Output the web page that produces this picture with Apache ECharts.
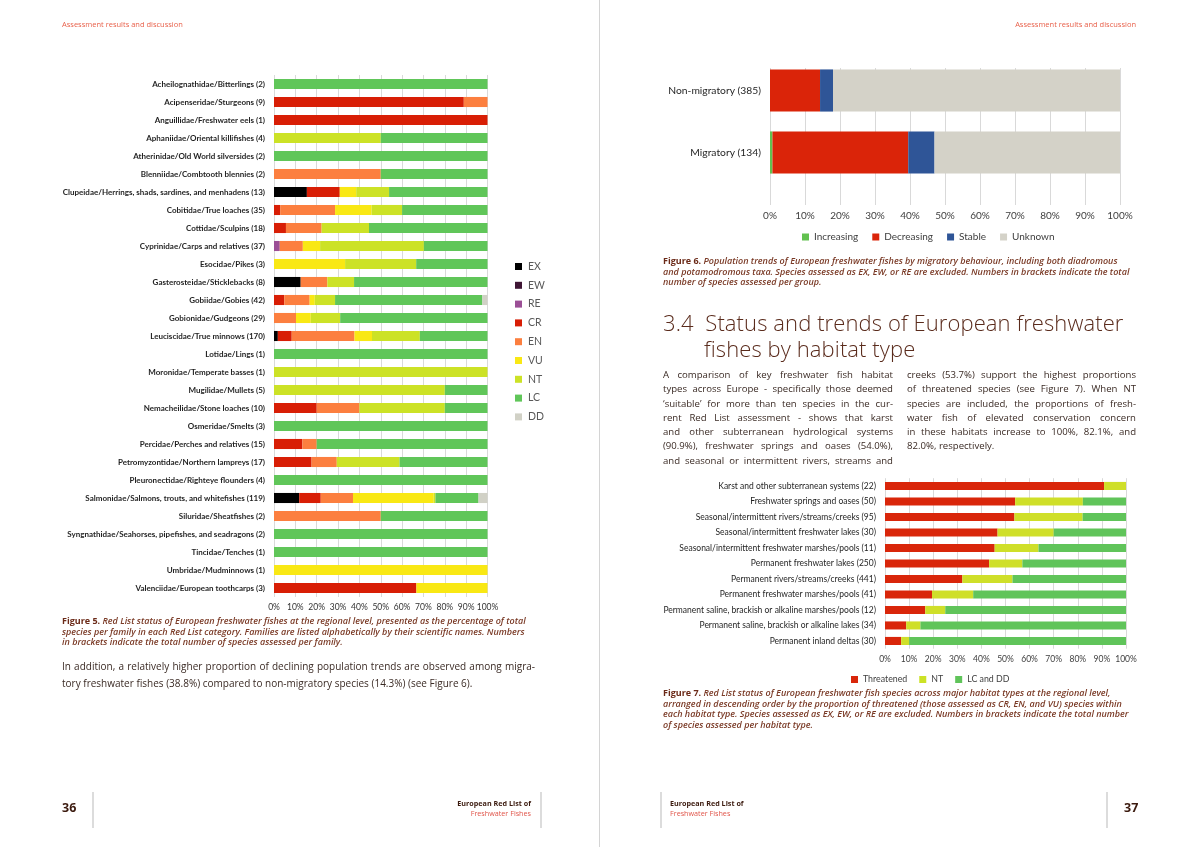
<!DOCTYPE html>
<html>
<head>
<meta charset="utf-8">
<script src="https://cdn.jsdelivr.net/npm/echarts@6/dist/echarts.min.js"></script>
<style>
  html, body { margin: 0; padding: 0; background: #ffffff; }
  body { width: 1199px; height: 847px; position: relative; overflow: hidden; font-family: "Open Sans", "Noto Sans", sans-serif; }
  #chart { position: absolute; left: 0; top: 0; width: 1199px; height: 847px; }
  .t { position: absolute; white-space: nowrap; }
  .hdr { font-size: 7.5px; color: #e8604a; top: 19px; }
  .cap { font-size: 9px; font-style: italic; font-weight: 600; color: #7a3a26; line-height: 10.7px; }
  .cap b { font-style: normal; font-weight: 700; color: #6b2a18; }
  .line { display: block; white-space: nowrap; }
  .just { text-align: justify; text-align-last: justify; }
  .body { font-size: 9.6px; color: #3a2a24; }
  .h { font-size: 22px; color: #5a2b1c; font-weight: 300; letter-spacing: 0.1px; }
  .ft1 { font-size: 7.2px; font-weight: 700; color: #3b1a0e; }
  .ft2 { font-size: 7.2px; color: #e0554a; }
  .num { font-size: 12.5px; font-weight: 700; color: #3b1a0e; }
  .vl { position: absolute; width: 1.5px; background: #dcdcdc; }
</style>
</head>
<body>
<div id="chart"></div>

<!-- spine -->
<div class="vl" style="left:599px; top:0; height:847px; width:1px; background:#d4d4d4;"></div>

<!-- headers -->
<div class="t hdr" style="left:62px;">Assessment results and discussion</div>
<div class="t hdr" style="right:63px;">Assessment results and discussion</div>

<!-- Figure 5 caption -->
<div class="t cap" style="left:62px; top:616px;">
  <span class="line"><b>Figure 5.</b> Red List status of European freshwater fishes at the regional level, presented as the percentage of total</span>
  <span class="line">species per family in each Red List category. Families are listed alphabetically by their scientific names. Numbers</span>
  <span class="line">in brackets indicate the total number of species assessed per family.</span>
</div>

<!-- left paragraph -->
<div class="t body" style="left:62px; top:658px; width:473px; font-size:10px; line-height:17px; white-space:normal;">
  <div class="just">In addition, a relatively higher proportion of declining population trends are observed among migra-</div>
  <div>tory freshwater fishes (38.8%) compared to non-migratory species (14.3%) (see Figure 6).</div>
</div>

<!-- Figure 6 caption -->
<div class="t cap" style="left:663px; top:256px;">
  <span class="line"><b>Figure 6.</b> Population trends of European freshwater fishes by migratory behaviour, including both diadromous</span>
  <span class="line">and potamodromous taxa. Species assessed as EX, EW, or RE are excluded. Numbers in brackets indicate the total</span>
  <span class="line">number of species assessed per group.</span>
</div>

<!-- heading -->
<div class="t h" style="left:663px; top:307px;">3.4&nbsp;&nbsp;Status and trends of European freshwater</div>
<div class="t h" style="left:704px; top:333px;">fishes by habitat type</div>

<!-- two-column paragraph -->
<div class="t body" style="left:663px; top:368px; width:230px; line-height:14.3px; white-space:normal;">
  <div class="just">A comparison of key freshwater fish habitat</div>
  <div class="just">types across Europe - specifically those deemed</div>
  <div class="just">‘suitable’ for more than ten species in the cur-</div>
  <div class="just">rent Red List assessment - shows that karst</div>
  <div class="just">and other subterranean hydrological systems</div>
  <div class="just">(90.9%), freshwater springs and oases (54.0%),</div>
  <div class="just">and seasonal or intermittent rivers, streams and</div>
</div>
<div class="t body" style="left:907px; top:368px; width:229px; line-height:14.3px; white-space:normal;">
  <div class="just">creeks (53.7%) support the highest proportions</div>
  <div class="just">of threatened species (see Figure 7). When NT</div>
  <div class="just">species are included, the proportions of fresh-</div>
  <div class="just">water fish of elevated conservation concern</div>
  <div class="just">in these habitats increase to 100%, 82.1%, and</div>
  <div>82.0%, respectively.</div>
</div>

<!-- Figure 7 caption -->
<div class="t cap" style="left:663px; top:688px;">
  <span class="line"><b>Figure 7.</b> Red List status of European freshwater fish species across major habitat types at the regional level,</span>
  <span class="line">arranged in descending order by the proportion of threatened (those assessed as CR, EN, and VU) species within</span>
  <span class="line">each habitat type. Species assessed as EX, EW, or RE are excluded. Numbers in brackets indicate the total number</span>
  <span class="line">of species assessed per habitat type.</span>
</div>

<!-- footers -->
<div class="t num" style="left:62px; top:799px;">36</div>
<div class="vl" style="left:92px; top:792px; height:36px;"></div>
<div class="t ft1" style="right:668px; top:798px;">European Red List of</div>
<div class="t ft2" style="right:668px; top:808px;">Freshwater Fishes</div>
<div class="vl" style="left:540px; top:792px; height:36px;"></div>

<div class="vl" style="left:660px; top:792px; height:36px;"></div>
<div class="t ft1" style="left:670px; top:798px;">European Red List of</div>
<div class="t ft2" style="left:670px; top:808px;">Freshwater Fishes</div>
<div class="vl" style="left:1106px; top:792px; height:36px;"></div>
<div class="t num" style="left:1124px; top:799px;">37</div>

<script>
// ---------- Figure 5 data (percent of species per family) ----------
var families = [
  'Acheilognathidae/Bitterlings (2)',
  'Acipenseridae/Sturgeons (9)',
  'Anguillidae/Freshwater eels (1)',
  'Aphaniidae/Oriental killifishes (4)',
  'Atherinidae/Old World silversides (2)',
  'Blenniidae/Combtooth blennies (2)',
  'Clupeidae/Herrings, shads, sardines, and menhadens (13)',
  'Cobitidae/True loaches (35)',
  'Cottidae/Sculpins (18)',
  'Cyprinidae/Carps and relatives (37)',
  'Esocidae/Pikes (3)',
  'Gasterosteidae/Sticklebacks (8)',
  'Gobiidae/Gobies (42)',
  'Gobionidae/Gudgeons (29)',
  'Leuciscidae/True minnows (170)',
  'Lotidae/Lings (1)',
  'Moronidae/Temperate basses (1)',
  'Mugilidae/Mullets (5)',
  'Nemacheilidae/Stone loaches (10)',
  'Osmeridae/Smelts (3)',
  'Percidae/Perches and relatives (15)',
  'Petromyzontidae/Northern lampreys (17)',
  'Pleuronectidae/Righteye flounders (4)',
  'Salmonidae/Salmons, trouts, and whitefishes (119)',
  'Siluridae/Sheatfishes (2)',
  'Syngnathidae/Seahorses, pipefishes, and seadragons (2)',
  'Tincidae/Tenches (1)',
  'Umbridae/Mudminnows (1)',
  'Valenciidae/European toothcarps (3)'
];
var EX = [0,0,0,0,0,0,15.4,0,0,0,0,12.5,0,0,1.8,0,0,0,0,0,0,0,0,11.8,0,0,0,0,0];
var EW = [0,0,0,0,0,0,0,0,0,0,0,0,0,0,0,0,0,0,0,0,0,0,0,0,0,0,0,0,0];
var RE = [0,0,0,0,0,0,0,0,0,2.7,0,0,0,0,0,0,0,0,0,0,0,0,0,0,0,0,0,0,0];
var CR = [0,88.9,100,0,0,0,15.4,2.9,5.6,0,0,0,4.8,0,6.5,0,0,0,20,0,13.3,17.6,0,10.1,0,0,0,0,66.7];
var EN = [0,11.1,0,0,0,50,0,25.7,16.7,10.8,0,12.5,11.9,10.3,29.4,0,0,0,20,0,6.7,11.8,0,15.1,50,0,0,0,0];
var VU = [0,0,0,0,0,0,7.7,17.1,0,8.1,33.3,0,2.4,6.9,8.2,0,0,0,0,0,0,0,0,37.8,0,0,0,100,33.3];
var NT = [0,0,0,50,0,0,15.4,14.3,22.2,48.6,33.3,12.5,9.5,13.8,22.4,0,100,80,40,0,0,29.4,0,0.8,0,0,0,0,0];
var LC = [100,0,0,50,100,50,46.1,40,55.5,29.8,33.4,62.5,69.0,69.0,31.7,100,0,20,20,100,80,41.2,100,20.2,50,100,100,0,0];
var DD = [0,0,0,0,0,0,0,0,0,0,0,0,2.4,0,0,0,0,0,0,0,0,0,0,4.2,0,0,0,0,0];
var categoriesRL = ['EX','EW','RE','CR','EN','VU','NT','LC','DD'];
var rlColors = ['#000000','#3e1534','#9b4f96','#d81e05','#fc7f3f','#f9e814','#cce226','#60c659','#d1d1c6'];

// ---------- Figure 6 data ----------
var groups = ['Non-migratory (385)', 'Migratory (134)'];
var increasing = [0, 0.7];
var decreasing = [14.3, 38.8];
var stable = [3.7, 7.5];
var unknown = [82.0, 53.0];

// ---------- Figure 7 data ----------
var habitats = [
  'Karst and other subterranean systems (22)',
  'Freshwater springs and oases (50)',
  'Seasonal/intermittent rivers/streams/creeks (95)',
  'Seasonal/intermittent freshwater lakes (30)',
  'Seasonal/intermittent freshwater marshes/pools (11)',
  'Permanent freshwater lakes (250)',
  'Permanent rivers/streams/creeks (441)',
  'Permanent freshwater marshes/pools (41)',
  'Permanent saline, brackish or alkaline marshes/pools (12)',
  'Permanent saline, brackish or alkaline lakes (34)',
  'Permanent inland deltas (30)'
];
var threatened = [90.9, 54.0, 53.7, 46.7, 45.5, 43.2, 32.1, 19.5, 16.7, 8.8, 6.7];
var ntHab = [9.1, 28.1, 28.3, 23.3, 18.2, 13.8, 20.8, 17.1, 8.3, 5.9, 3.3];
var lcdd = [0, 17.9, 18.0, 30.0, 36.3, 43.0, 47.1, 63.4, 75.0, 85.3, 90.0];

var pctTicks = ['0%','10%','20%','30%','40%','50%','60%','70%','80%','90%','100%'];

var chartFont = 'Lato, "Open Sans", sans-serif';
function pctFmt(v) { return pctTicks[Math.round(v / 10)]; }

var chart = echarts.init(document.getElementById('chart'), null, { renderer: 'canvas' });

var rlSeriesData = [EX, EW, RE, CR, EN, VU, NT, LC, DD];
var series = [];
categoriesRL.forEach(function (name, i) {
  series.push({
    name: name, type: 'bar', stack: 'rl', xAxisIndex: 0, yAxisIndex: 0,
    barCategoryGap: '44%', data: rlSeriesData[i],
    itemStyle: { color: rlColors[i] }, silent: true
  });
});
var f6 = [['Increasing', increasing, '#62c150'], ['Decreasing', decreasing, '#da2409'], ['Stable', stable, '#2f5597'], ['Unknown', unknown, '#d4d2c8']];
f6.forEach(function (s) {
  series.push({
    name: s[0], type: 'bar', stack: 'trend', xAxisIndex: 1, yAxisIndex: 1,
    barCategoryGap: '32%', data: s[1], itemStyle: { color: s[2] }, silent: true
  });
});
var f7 = [['Threatened', threatened, '#d9260a'], ['NT', ntHab, '#cfdf29'], ['LC and DD', lcdd, '#60c45a']];
f7.forEach(function (s) {
  series.push({
    name: s[0], type: 'bar', stack: 'hab', xAxisIndex: 3, yAxisIndex: 3,
    barCategoryGap: '48%', data: s[1], itemStyle: { color: s[2] }, silent: true
  });
});

var option = {
  animation: false,
  textStyle: { fontFamily: chartFont },
  grid: [
    { left: 274, top: 75, width: 213.5, height: 522 },      // fig 5
    { left: 770, top: 59.5, width: 350, height: 124 },      // fig 6 bars
    { left: 770, top: 68, width: 350, height: 137 },        // fig 6 gridlines & ticks
    { left: 885, top: 478.2, width: 241, height: 170.5 }    // fig 7
  ],
  xAxis: [
    { gridIndex: 0, type: 'value', min: 0, max: 100, interval: 10,
      axisLine: { show: false }, axisTick: { show: false },
      axisLabel: { formatter: pctFmt, fontSize: 8.5, color: '#333333', margin: 6, fontFamily: chartFont },
      splitLine: { lineStyle: { color: '#d9d9d9', width: 1 } } },
    { gridIndex: 1, type: 'value', min: 0, max: 100, interval: 10, show: false, splitLine: { show: false } },
    { gridIndex: 2, type: 'value', min: 0, max: 100, interval: 10,
      axisLine: { show: false }, axisTick: { show: false },
      axisLabel: { formatter: pctFmt, fontSize: 10, color: '#404040', margin: 6, fontFamily: chartFont },
      splitLine: { lineStyle: { color: '#d9d9d9', width: 1 } } },
    { gridIndex: 3, type: 'value', min: 0, max: 100, interval: 10,
      axisLine: { show: false }, axisTick: { show: false },
      axisLabel: { formatter: pctFmt, fontSize: 8.5, color: '#404040', margin: 6, fontFamily: chartFont },
      splitLine: { lineStyle: { color: '#d9d9d9', width: 1 } } }
  ],
  yAxis: [
    { gridIndex: 0, type: 'category', inverse: true, data: families,
      axisLine: { show: false }, axisTick: { show: false },
      axisLabel: { fontSize: 8, color: '#1f1f1f', margin: 9, fontFamily: chartFont, fontWeight: 'bold' } },
    { gridIndex: 1, type: 'category', inverse: true, data: groups,
      axisLine: { show: false }, axisTick: { show: false },
      axisLabel: { fontSize: 10.3, color: '#1f1f1f', margin: 9, fontFamily: chartFont } },
    { gridIndex: 2, type: 'category', data: [''], show: false },
    { gridIndex: 3, type: 'category', inverse: true, data: habitats,
      axisLine: { show: false }, axisTick: { show: false },
      axisLabel: { fontSize: 8.5, color: '#1f1f1f', margin: 9, fontFamily: chartFont } }
  ],
  legend: [
    { data: categoriesRL, orient: 'vertical', left: 510, top: 256, itemWidth: 7, itemHeight: 7,
      itemGap: 7.8, icon: 'rect', selectedMode: false,
      textStyle: { fontSize: 10.5, color: '#595959', fontFamily: chartFont, padding: [0, 0, 0, 1] } },
    { data: ['Increasing', 'Decreasing', 'Stable', 'Unknown'], orient: 'horizontal', left: 797, top: 227,
      itemWidth: 7, itemHeight: 7, itemGap: 14, icon: 'rect', selectedMode: false,
      textStyle: { fontSize: 10, color: '#404040', fontFamily: chartFont } },
    { data: ['Threatened', 'NT', 'LC and DD'], orient: 'horizontal', left: 846, top: 670,
      itemWidth: 7, itemHeight: 7, itemGap: 12, icon: 'rect', selectedMode: false,
      textStyle: { fontSize: 8.8, color: '#404040', fontFamily: chartFont } }
  ],
  series: series
};
chart.setOption(option);
</script>
</body>
</html>
